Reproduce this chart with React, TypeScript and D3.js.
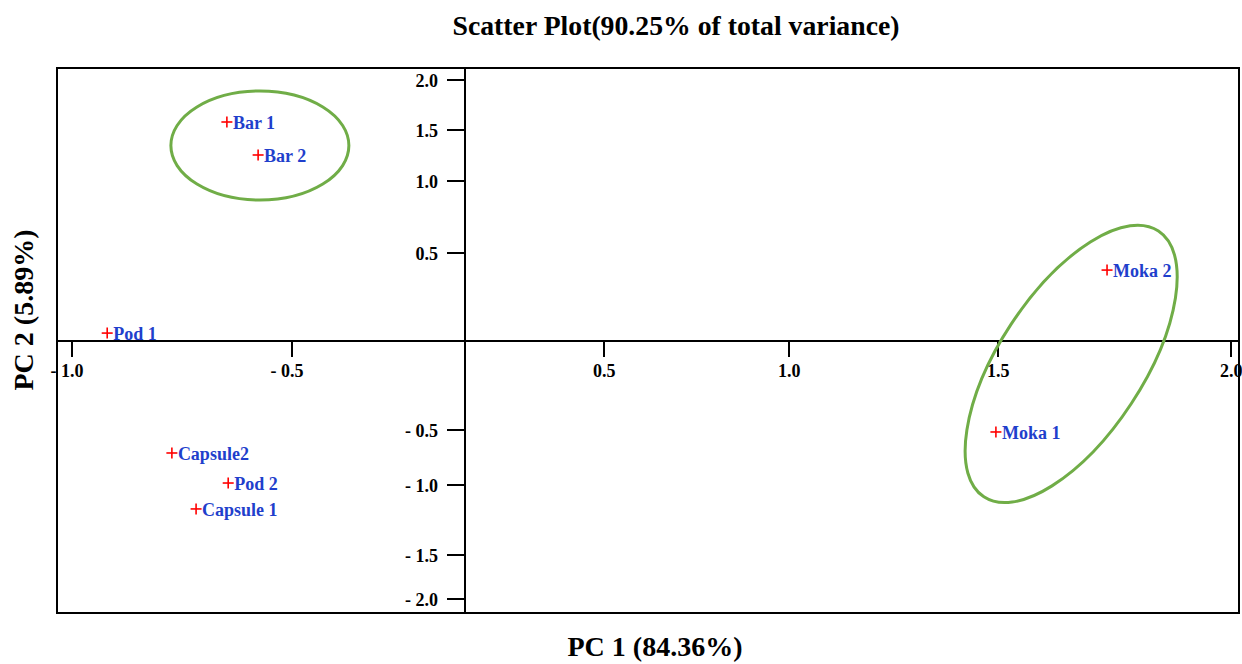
import React, { useEffect } from "react";
import * as d3 from "d3";

// PCA scores (PC1, PC2) per coffee extraction sample
const samples = ["Bar 1", "Bar 2", "Pod 1", "Capsule2", "Pod 2", "Capsule 1", "Moka 2", "Moka 1"];
const pc1 = [-0.648, -0.577, -0.92, -0.773, -0.645, -0.718, 1.734, 1.495];
const pc2 = [1.58, 1.255, 0.045, -0.709, -0.982, -1.171, 0.403, -0.518];

// Axis ticks
const xTicks = [-1, -0.5, 0.5, 1, 1.5, 2];
const yTicks = [2, 1.5, 1, 0.5, -0.5, -1, -1.5, -2];

// Cluster outlines: centre in score units
const clusterNames = ["bar", "moka"];
const clusterPC1 = [-0.573, 1.657];
const clusterPC2 = [1.348, -0.129];

// ---- layout ----
const W = 1242;
const H = 664;
const frame = { left: 57, right: 1239, top: 68, bottom: 613 };
// piecewise axis calibration (score value -> pixel)
const xBreaks = [-1, -0.5, 0, 0.5, 1, 1.5, 2];
const xPixels = [72, 292, 465, 604, 789, 998, 1231];
const yBreaks = [2, 1.5, 1, 0.5, 0, -0.5, -1, -1.5, -2];
const yPixels = [80, 130, 181, 253, 341, 430, 485, 555, 599];
const clusterShape = [
  { rx: 89, ry: 54.5, rot: 0 },
  { rx: 159, ry: 72, rot: -56.7 },
];

const SERIF = "'Liberation Serif', 'Times New Roman', serif";
const GREEN = "#70ad47";
const BLUE = "#1f3fcc";
const RED = "#ff0000";

const fmt = (v: number) => (v < 0 ? "- " + Math.abs(v).toFixed(1) : v.toFixed(1));

export default function App() {
  useEffect(() => {
    document.body.style.margin = "0";
  }, []);

  const x = d3.scaleLinear().domain(xBreaks).range(xPixels);
  const y = d3.scaleLinear().domain(yBreaks).range(yPixels);
  const x0 = x(0);
  const y0 = y(0);

  return (
    <svg width={W} height={H} style={{ display: "block" }} fontFamily={SERIF}>
      <rect width={W} height={H} fill="#fff" />

      {/* title */}
      <text x={676} y={35} textAnchor="middle" fontSize={28} fontWeight="bold"
        textLength={447} lengthAdjust="spacingAndGlyphs">
        Scatter Plot(90.25% of total variance)
      </text>

      {/* frame */}
      <rect x={frame.left} y={frame.top} width={frame.right - frame.left}
        height={frame.bottom - frame.top} fill="none" stroke="#000" strokeWidth={2} />

      {/* axes through origin */}
      <line x1={frame.left} x2={frame.right} y1={y0} y2={y0} stroke="#000" strokeWidth={2} />
      <line x1={x0} x2={x0} y1={frame.top} y2={frame.bottom} stroke="#000" strokeWidth={2} />

      {/* x ticks */}
      {xTicks.map((t) => (
        <g key={"xt" + t}>
          <line x1={x(t)} x2={x(t)} y1={y0} y2={y0 + 16} stroke="#000" strokeWidth={2} />
          <text x={x(t) + 11.5} y={y0 + 36} textAnchor="end" fontSize={18} fontWeight="bold">
            {fmt(t)}
          </text>
        </g>
      ))}

      {/* y ticks */}
      {yTicks.map((t) => (
        <g key={"yt" + t}>
          <line x1={x0 - 18} x2={x0} y1={y(t)} y2={y(t)} stroke="#000" strokeWidth={2} />
          <text x={x0 - 27} y={y(t) + 7} textAnchor="end" fontSize={18} fontWeight="bold">
            {fmt(t)}
          </text>
        </g>
      ))}

      {/* cluster ellipses */}
      {clusterNames.map((n, i) => (
        <ellipse key={n} cx={0} cy={0} rx={clusterShape[i].rx} ry={clusterShape[i].ry}
          transform={`translate(${x(clusterPC1[i])},${y(clusterPC2[i])}) rotate(${clusterShape[i].rot})`}
          fill="none" stroke={GREEN} strokeWidth={3} />
      ))}

      {/* sample points */}
      {samples.map((s, i) => {
        const px = x(pc1[i]);
        const py = y(pc2[i]);
        return (
          <g key={s}>
            <line x1={px - 5.5} x2={px + 5.5} y1={py} y2={py} stroke={RED} strokeWidth={1.6} />
            <line x1={px} x2={px} y1={py - 5.5} y2={py + 5.5} stroke={RED} strokeWidth={1.6} />
            <text x={px + 6} y={py + 7} fontSize={18} fontWeight="bold" fill={BLUE}>
              {s}
            </text>
          </g>
        );
      })}

      {/* axis titles */}
      <text x={655} y={656} textAnchor="middle" fontSize={28} fontWeight="bold">
        PC 1 (84.36%)
      </text>
      <text transform="translate(33,310) rotate(-90)" textAnchor="middle" fontSize={28} fontWeight="bold">
        PC 2 (5.89%)
      </text>
    </svg>
  );
}
